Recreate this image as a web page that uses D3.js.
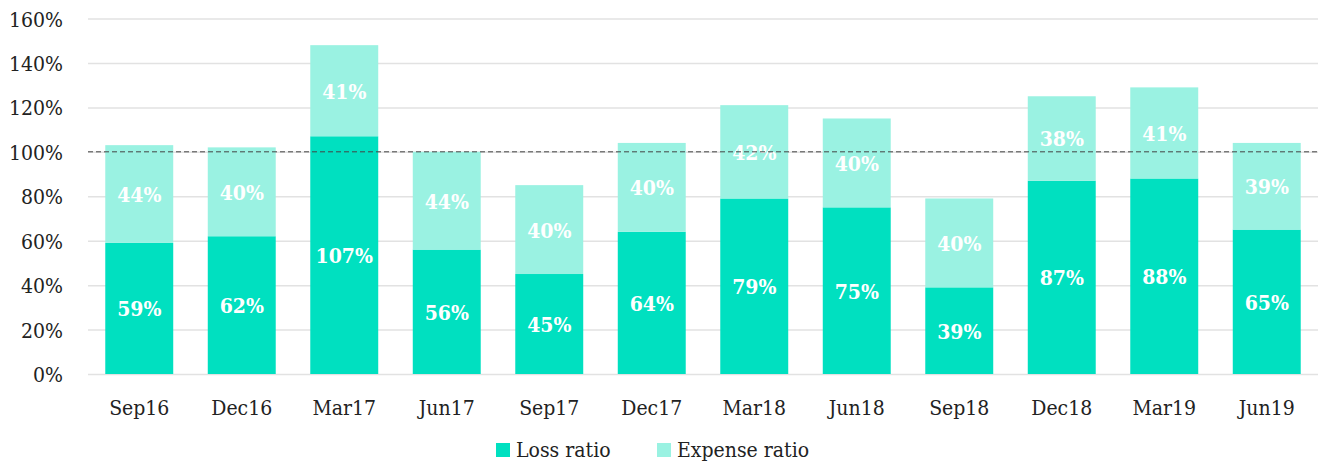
<!DOCTYPE html>
<html>
<head>
<meta charset="utf-8">
<script src="https://cdn.jsdelivr.net/npm/d3@7"></script>
<style>
  html, body { margin: 0; padding: 0; background: #fff; }
  svg { display: block; }
  text { font-family: "DejaVu Serif Condensed", "DejaVu Serif", serif; font-stretch: condensed; }
</style>
</head>
<body>
<svg id="chart" width="1325" height="465"></svg>
<script>
// Quarterly combined ratio split into loss and expense components (%)
const quarters = ["Sep16", "Dec16", "Mar17", "Jun17", "Sep17", "Dec17", "Mar18", "Jun18", "Sep18", "Dec18", "Mar19", "Jun19"];
const lossRatio = [59, 62, 107, 56, 45, 64, 79, 75, 39, 87, 88, 65];
const expenseRatio = [44, 40, 41, 44, 40, 40, 42, 40, 40, 38, 41, 39];
const yTicks = [0, 20, 40, 60, 80, 100, 120, 140, 160];
const seriesNames = ["Loss ratio", "Expense ratio"];
const referenceLine = 100;

const colors = { "Loss ratio": "#00e0c0", "Expense ratio": "#9af2e2" };

const svg = d3.select("#chart");
const margin = { left: 88, right: 7, top: 18.5, bottom: 91 };
const W = 1325, H = 465;
const fontSize = "21px";

const x = d3.scaleBand()
  .domain(quarters)
  .range([margin.left, W - margin.right])
  .paddingInner(0.337)
  .paddingOuter(0.1685);

const y = d3.scaleLinear()
  .domain([0, 160])
  .range([H - margin.bottom, margin.top]);

// Horizontal gridlines and y tick labels
const yAxis = d3.axisLeft(y)
  .tickValues(yTicks)
  .tickSize(-(W - margin.left - margin.right))
  .tickPadding(25)
  .tickFormat(d => d + "%");

const gy = svg.append("g")
  .attr("transform", `translate(${margin.left},0)`)
  .call(yAxis);
gy.select(".domain").remove();
gy.selectAll(".tick line").attr("stroke", "#e2e2e2").attr("stroke-width", 1.5);
gy.selectAll(".tick text")
  .attr("fill", "#222")
  .style("font-size", fontSize)
  .attr("dy", "0.36em");

// Stacked bars
const rows = quarters.map((q, i) => ({ q, "Loss ratio": lossRatio[i], "Expense ratio": expenseRatio[i] }));
const stack = d3.stack().keys(seriesNames)(rows);

const layers = svg.append("g").selectAll("g")
  .data(stack)
  .join("g")
  .attr("fill", d => colors[d.key]);

layers.selectAll("rect")
  .data(d => d)
  .join("rect")
  .attr("x", d => x(d.data.q))
  .attr("width", x.bandwidth())
  .attr("y", d => y(d[1]))
  .attr("height", d => y(d[0]) - y(d[1]));

// Value labels centred in each segment
layers.selectAll("text")
  .data(d => d.map(v => ({ v, key: d.key })))
  .join("text")
  .attr("x", d => x(d.v.data.q) + x.bandwidth() / 2)
  .attr("y", d => y((d.v[0] + d.v[1]) / 2))
  .attr("dy", "0.38em")
  .attr("text-anchor", "middle")
  .attr("fill", "#fff")
  .style("font-size", fontSize)
  .style("font-weight", "bold")
  .text(d => d.v.data[d.key] + "%");

// Dashed 100% reference line
svg.append("line")
  .attr("x1", margin.left)
  .attr("x2", W - margin.right)
  .attr("y1", y(referenceLine))
  .attr("y2", y(referenceLine))
  .attr("stroke", "#444")
  .attr("stroke-width", 1)
  .attr("stroke-dasharray", "5,3");

// Category axis labels
const xAxis = d3.axisBottom(x).tickSize(0).tickPadding(26);
const gx = svg.append("g")
  .attr("transform", `translate(0,${y(0)})`)
  .call(xAxis);
gx.select(".domain").remove();
gx.selectAll(".tick text")
  .attr("fill", "#222")
  .style("font-size", fontSize);

// Legend
const legend = svg.append("g");
const legendItems = [
  { name: "Loss ratio", x: 496 },
  { name: "Expense ratio", x: 657 }
];
legendItems.forEach(it => {
  legend.append("rect")
    .attr("x", it.x).attr("y", 443)
    .attr("width", 14).attr("height", 14)
    .attr("fill", colors[it.name]);
  legend.append("text")
    .attr("x", it.x + 20).attr("y", 457)
    .attr("fill", "#222")
    .style("font-size", fontSize)
    .text(it.name);
});
</script>
</body>
</html>
